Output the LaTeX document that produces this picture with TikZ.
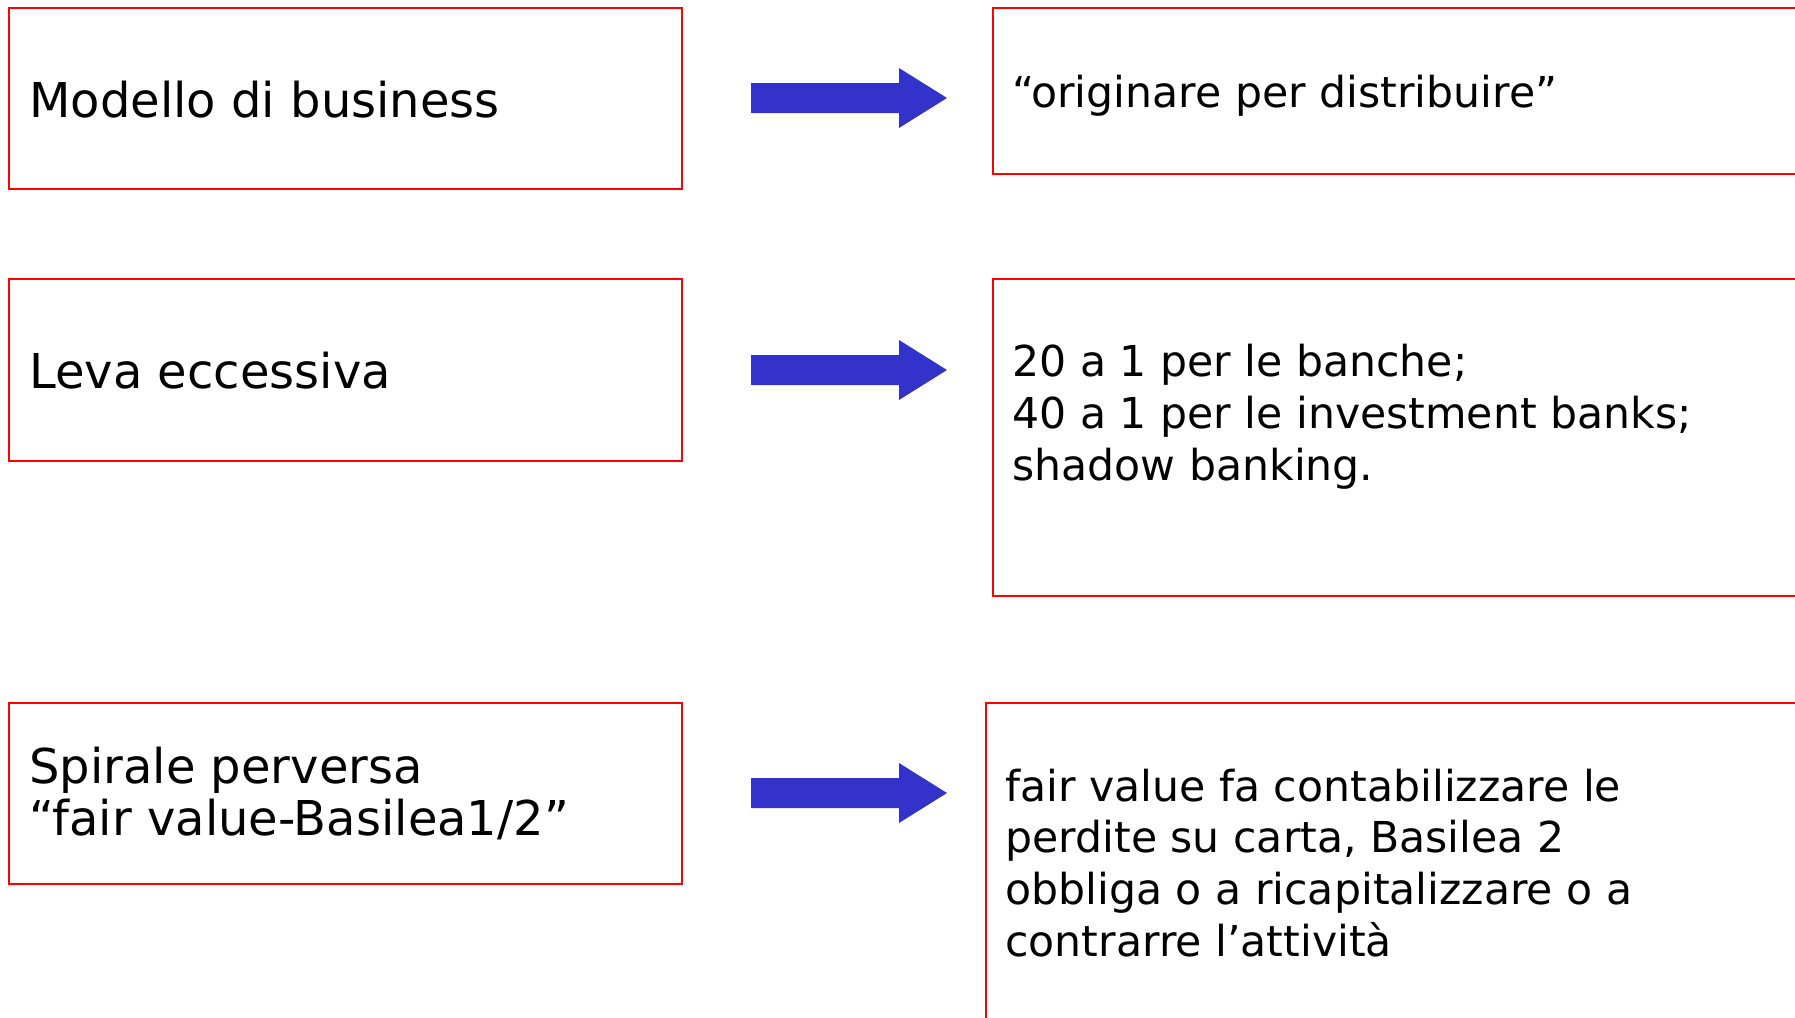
\documentclass[tikz,border=0pt]{standalone}
\usepackage{fontspec}
\setmainfont{DejaVu Sans}
\usepackage{tikz}

\definecolor{rossobox}{RGB}{255,0,0}
\definecolor{bluefreccia}{RGB}{51,51,204}

\tikzset{
  casella/.style={draw=rossobox, line width=1.3pt},
  testo/.style={anchor=base west, inner sep=0pt, align=left,
    font=\fontsize{24}{26}\selectfont},
  testodx/.style={testo, font=\fontsize{21.3}{25.8}\selectfont},
  freccia/.style={fill=bluefreccia}
}

\begin{document}
\begin{tikzpicture}[x=0.5pt,y=-0.5pt]
    \useasboundingbox (0,0) rectangle (1795,1018);

    % caselle a sinistra
    \draw[casella] (9,8) rectangle (682,189);
    \draw[casella] (9,279) rectangle (682,461);
    \draw[casella] (9,703) rectangle (682,884);

    % caselle a destra
    \draw[casella] (993,8) rectangle (1810,174);
    \draw[casella] (993,279) rectangle (1810,596);
    \draw[casella] (986,703) rectangle (1810,1030);

    % frecce
    \foreach \y in {98,370,793}
      \fill[freccia] (751,\y-15) -- (899,\y-15) -- (899,\y-30) -- (947,\y)
        -- (899,\y+30) -- (899,\y+15) -- (751,\y+15) -- cycle;

    % testi a sinistra (base = ultima riga)
    \node[testo] (modello) at (29,117) {Modello di business};
    \node[testo] (leva) at (29,388) {Leva eccessiva};
    \node[testo] (spirale) at (29,835) {Spirale perversa\\“fair value-Basilea1/2”};

    % testi a destra
    \node[testodx] (originare) at (1012,107) {“originare per distribuire”};
    \node[testodx] (rapporti) at (1012,480)
      {20 a 1 per le banche;\\40 a 1 per le investment banks;\\shadow banking.};
    \node[testodx] (fairvalue) at (1005,956)
      {fair value fa contabilizzare le\\perdite su carta, Basilea 2\\obbliga o a ricapitalizzare o a\\contrarre l’attività};
\end{tikzpicture}
\end{document}
